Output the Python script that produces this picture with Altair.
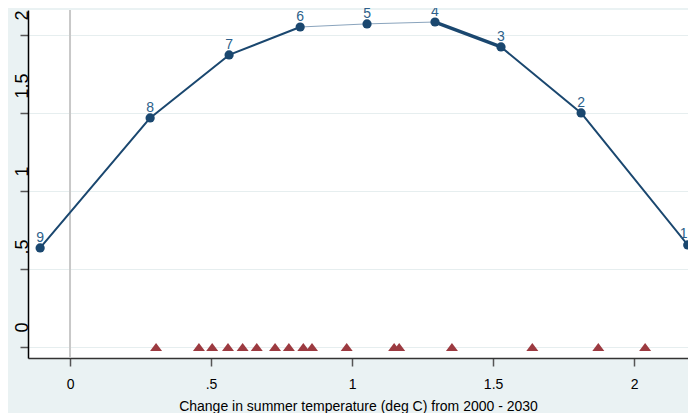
import altair as alt
import pandas as pd

# ---- data ----
pt_label = ["9", "8", "7", "6", "5", "4", "3", "2", "1"]
pt_x = [-0.106, 0.284, 0.564, 0.816, 1.053, 1.294, 1.528, 1.812, 2.190]
pt_y = [0.635, 1.468, 1.872, 2.051, 2.071, 2.083, 1.923, 1.500, 0.654]
seg_width = [2, 2, 2, 1, 1, 3.5, 2, 2]
seg_kind = ["n", "n", "n", "thin", "thin", "n", "n", "n"]
rug_x = [0.305, 0.457, 0.504, 0.560, 0.612, 0.662, 0.727, 0.776, 0.827,
         0.858, 0.981, 1.149, 1.167, 1.354, 1.639, 1.873, 2.039]
tick_vals = [0, 0.5, 1, 1.5, 2]

NAVY = "#1a476f"
LIGHT = "#8aa4bd"
MAROON = "#9c3a40"
FONT = "Liberation Sans"

pts = pd.DataFrame({"x": pt_x, "y": pt_y, "lab": pt_label})
segs = pd.DataFrame({
    "x": pt_x[:-1], "y": pt_y[:-1], "x2": pt_x[1:], "y2": pt_y[1:],
    "w": seg_width,
    "c": [LIGHT if k == "thin" else NAVY for k in seg_kind],
})
rug = pd.DataFrame({"x": rug_x, "y": [0] * len(rug_x)})
zero = pd.DataFrame({"x": [0]})

lab_expr = "datum.value == 0.5 ? '.5' : format(datum.value, '~g')"

xenc = alt.X("x:Q",
             scale=alt.Scale(domain=[-0.149, 2.191], nice=False, zero=False),
             axis=alt.Axis(values=tick_vals, labelExpr=lab_expr, grid=False,
                           tickSize=8, tickColor="#555555", tickWidth=1.5,
                           domainColor="#333333", domainWidth=1.5,
                           labelFont=FONT, labelFontSize=14, labelColor="black",
                           labelPadding=11,
                           title="Change in summer temperature (deg C) from 2000 - 2030",
                           titleFont=FONT, titleFontSize=14, titleFontWeight="normal",
                           titleColor="black", titlePadding=8))
yenc = alt.Y("y:Q",
             scale=alt.Scale(domain=[-0.0705, 2.160], nice=False, zero=False),
             axis=alt.Axis(values=tick_vals, labelExpr=lab_expr, grid=True,
                           gridColor="#e6eeef", gridWidth=1,
                           tickSize=8, tickColor="#555555", tickWidth=1.5,
                           domainColor="black", domainWidth=1.5,
                           labelFont=FONT, labelFontSize=18, labelColor="black",
                           labelAngle=270, labelAlign="left", labelBaseline="alphabetic",
                           labelPadding=-7, labelOffset=-15, title=None))

zline = alt.Chart(zero).mark_rule(color="#c8c8c8", strokeWidth=2).encode(x=xenc)

rugs = alt.Chart(rug).mark_point(shape="M0,-0.67L1,0.67L-1,0.67Z", filled=True,
                                 opacity=1, color=MAROON, size=144).encode(x=xenc, y=yenc)

lines = alt.Chart(segs).mark_rule(strokeCap="round").encode(
    x=xenc, y=yenc, x2="x2:Q", y2="y2:Q",
    strokeWidth=alt.StrokeWidth("w:Q", scale=None),
    color=alt.Color("c:N", scale=None),
)

dots = alt.Chart(pts).mark_point(shape="circle", filled=True, opacity=1,
                                 color=NAVY, size=85).encode(x=xenc, y=yenc)

labels = alt.Chart(pts).transform_filter("datum.lab != '1'").mark_text(
    dy=-10, font=FONT, fontSize=14, color="#2d5f8a"
).encode(x=xenc, y=yenc, text="lab:N")

label_edge = alt.Chart(pts).transform_filter("datum.lab == '1'").mark_text(
    dy=-11, dx=-4, font=FONT, fontSize=14, color="#2d5f8a"
).encode(x=xenc, y=yenc, text="lab:N")

chart = alt.layer(zline, rugs, lines, dots, labels, label_edge).properties(
    width=660, height=348,
    autosize=alt.AutoSizeParams(type="none"),
    padding={"left": 20, "top": 2, "right": 0, "bottom": 55},
).configure(background="#eaf2f3").configure_view(fill="white", stroke=None)

chart.save("out.html", embed_options={"renderer": "svg", "actions": False})
